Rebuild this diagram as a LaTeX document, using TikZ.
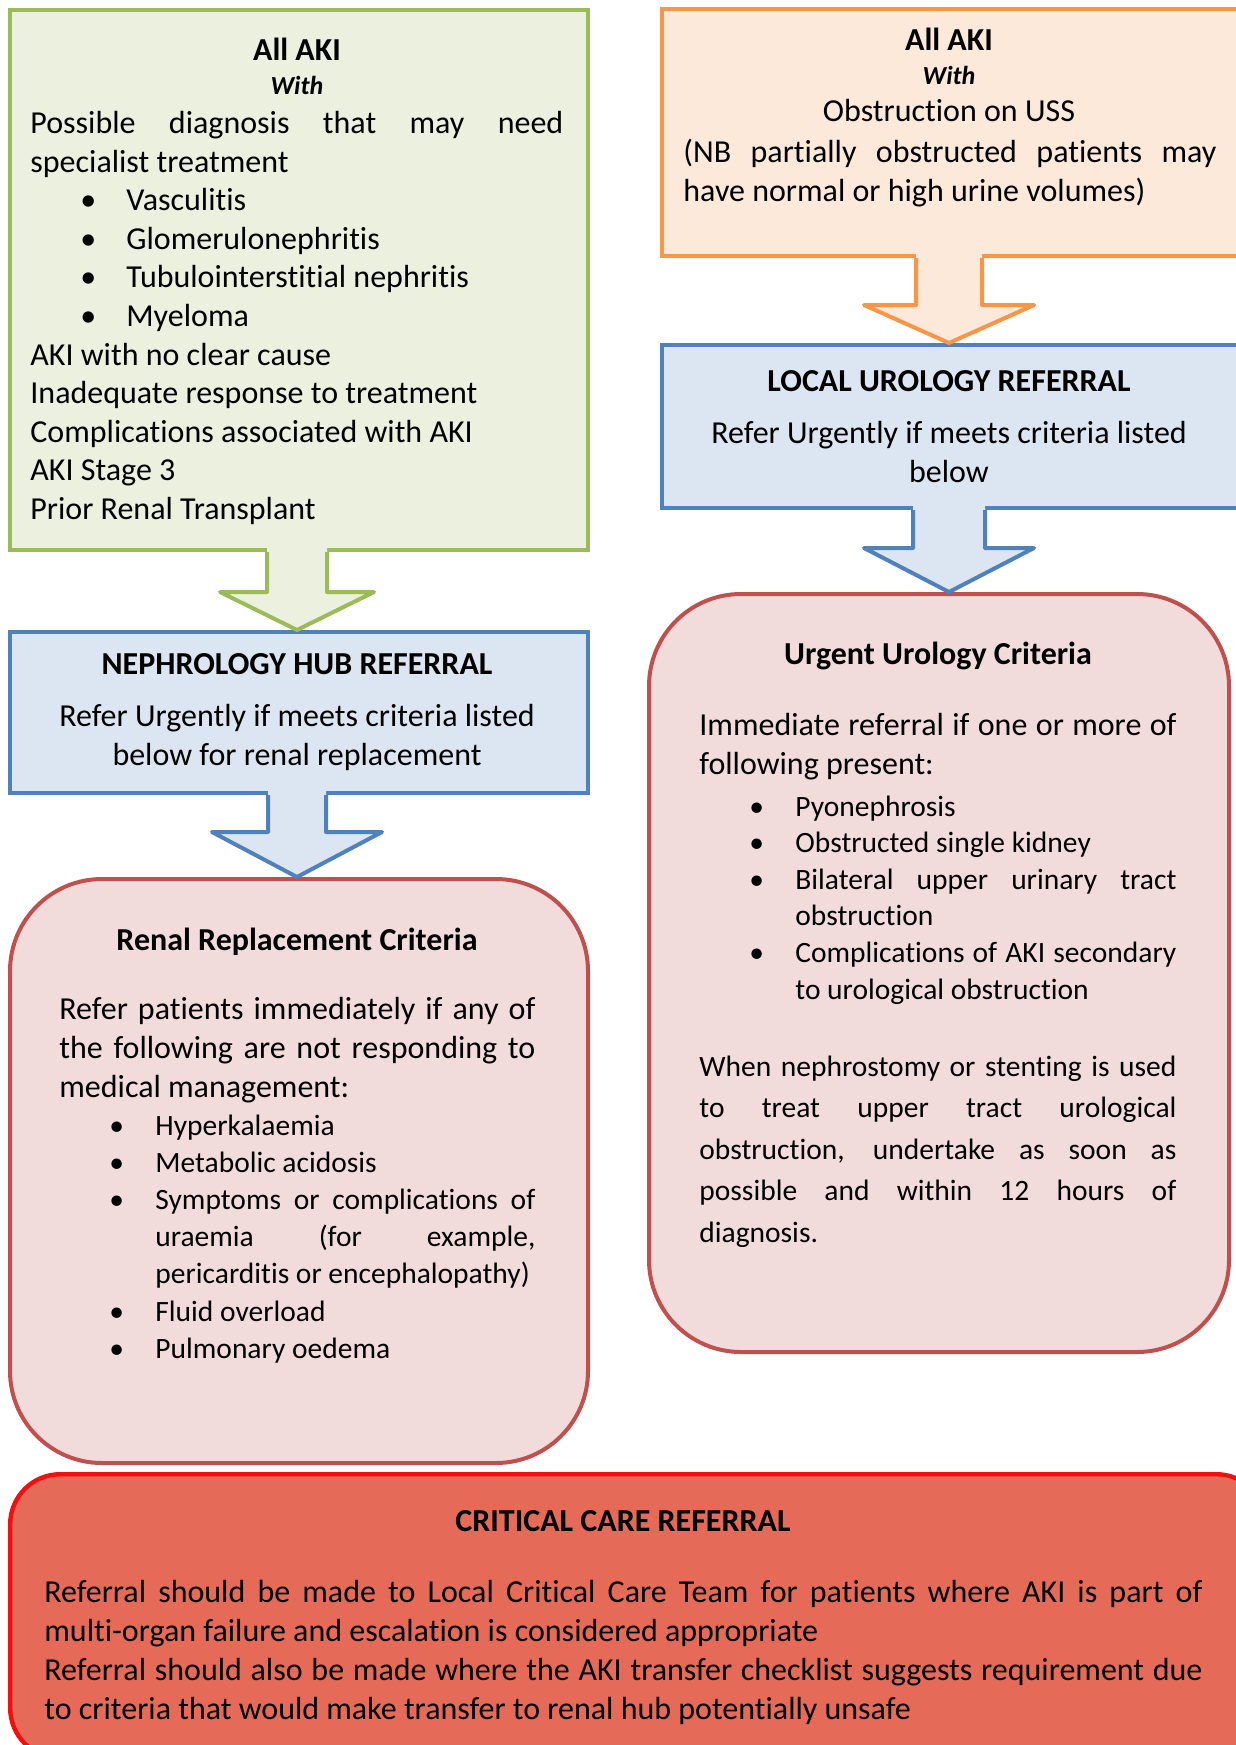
\documentclass[tikz,border=0pt]{standalone}
\usepackage{fontspec}
\setmainfont{Carlito}[Ligatures=NoCommon]
\usetikzlibrary{calc}

\definecolor{akigreen}{HTML}{9BBB59}
\definecolor{akigreenfill}{HTML}{EBF1DE}
\definecolor{akiorange}{HTML}{F79646}
\definecolor{akiorangefill}{HTML}{FDE9D9}
\definecolor{akiblue}{HTML}{4F81BD}
\definecolor{akibluefill}{HTML}{DCE6F2}
\definecolor{akired}{HTML}{C0504D}
\definecolor{akiredfill}{HTML}{F2DCDB}
\definecolor{critred}{HTML}{F20F0F}
\definecolor{critfill}{HTML}{E56B58}

\setlength{\parindent}{0pt}
\tolerance=9999
\hyphenpenalty=10000
\exhyphenpenalty=10000

% bullet line with hanging indent
\newcommand{\akiitem}[1]{\par\hangindent=48pt\hangafter=1\noindent\hspace*{25pt}\makebox[23pt][l]{•}#1}
\newcommand{\smallitems}[1]{\par\fontsize{14.75}{#1}\selectfont}

% block arrow: style, axis node, from, to, shaft half width, head half width, head length
\newcommand{\blockarrow}[7]{%
  \coordinate (#3-foot) at (#2 |- #3.south);
  \coordinate (#3-tip) at (#2 |- #4.north);
  \fill[#1, draw=none] ($(#3-foot)+(-#5,-6)$) -- ($(#3-tip)+(-#5,-#7)$) -- ($(#3-tip)+(-#6,-#7)$) -- (#3-tip)
    -- ($(#3-tip)+(#6,-#7)$) -- ($(#3-tip)+(#5,-#7)$) -- ($(#3-foot)+(#5,-6)$) -- cycle;
  \draw[#1, fill=none] ($(#3-foot)+(-#5,0)$) -- ($(#3-tip)+(-#5,-#7)$) -- ($(#3-tip)+(-#6,-#7)$) -- (#3-tip)
    -- ($(#3-tip)+(#6,-#7)$) -- ($(#3-tip)+(#5,-#7)$) -- ($(#3-foot)+(#5,0)$);
}

\begin{document}
\begin{tikzpicture}[
        x=0.5pt, y=-0.5pt,
        box/.style={draw, line width=2pt, anchor=north west, inner sep=0pt}, % Box styling
        greenbox/.style={box, draw=akigreen, fill=akigreenfill},
        orangebox/.style={box, draw=akiorange, fill=akiorangefill},
        bluebox/.style={box, draw=akiblue, fill=akibluefill},
        redbox/.style={box, draw=akired, fill=akiredfill, rounded corners=46pt},
        critbox/.style={box, draw=critred, fill=critfill, line width=2.2pt, rounded corners=25pt},
        greenarrow/.style={draw=akigreen, fill=akigreenfill, line width=2pt, line join=round},
        orangearrow/.style={draw=akiorange, fill=akiorangefill, line width=2pt, line join=round},
        bluearrow/.style={draw=akiblue, fill=akibluefill, line width=2pt, line join=round},
        titletext/.style={anchor=base, inner sep=0pt, font={\fontsize{16}{19}\selectfont\bfseries}},
        withtext/.style={anchor=base, inner sep=0pt, font={\fontsize{13}{16}\selectfont\bfseries\itshape}},
        bodytext/.style={anchor=base west, inner sep=0pt, align=justify, font={\fontsize{16}{19.3}\selectfont}},
        centertext/.style={anchor=base, inner sep=0pt, text width=285pt, align=flush center, font={\fontsize{16}{19.5}\selectfont}}
        ]
        \useasboundingbox (0,0) rectangle (1236,1745);
        \clip (0,0) rectangle (1236,1745);

        % Define boxes
        \node (akibox) [greenbox, minimum width=289pt, minimum height=270pt] at (8,8) {};
        \node (nephbox) [bluebox, minimum width=289pt, minimum height=80.5pt] at (8,630) {};
        \node (renalbox) [redbox, minimum width=289pt, minimum height=292pt] at (8,877) {};
        \node (obstbox) [orangebox, minimum width=300pt, minimum height=123.5pt] at (660,7) {};
        \node (urolbox) [bluebox, minimum width=300pt, minimum height=81.5pt] at (660,343) {};
        \node (urgentbox) [redbox, minimum width=290pt, minimum height=379pt] at (647,592) {};
        \node (critbox) [critbox, minimum width=628pt, minimum height=142pt] at (8,1472) {};

        % Left column texts
        \node (akititle) [titletext] at (297,60) {All AKI};
        \node (akiwith) [withtext] at (297,94) {With};
        \node (akibody) [bodytext, text width=266.5pt] at (30,133.5) {Possible diagnosis that may need\linebreak specialist treatment
            \akiitem{Vasculitis}
            \akiitem{Glomerulonephritis}
            \akiitem{Tubulointerstitial nephritis}
            \akiitem{Myeloma}
            \par AKI with no clear cause
            \par Inadequate response to treatment
            \par Complications associated with AKI
            \par AKI Stage 3
            \par Prior Renal Transplant\par};

        \node (nephtitle) [titletext] at (297,674) {NEPHROLOGY HUB REFERRAL};
        \node (nephbody) [centertext] at (297,726) {Refer Urgently if meets criteria listed\\below for renal replacement};

        \node (renaltitle) [titletext] at (297,950) {Renal Replacement Criteria};
        \node (renalbody) [bodytext, text width=238pt, font={\fontsize{16}{19.7}\selectfont}] at (59,1019) {Refer patients immediately if any of\linebreak the following are not responding to\linebreak medical management:
            \smallitems{18.6}
            \akiitem{Hyperkalaemia}
            \akiitem{Metabolic acidosis}
            \akiitem{Symptoms or complications of\linebreak uraemia (for example,\linebreak pericarditis or encephalopathy)}
            \akiitem{Fluid overload}
            \akiitem{Pulmonary oedema}\par};

        % Right column texts
        \node (obsttitle) [titletext] at (949,50) {All AKI};
        \node (obstwith) [withtext] at (949,84) {With};
        \node (obstline) [centertext] at (949,121) {Obstruction on USS};
        \node (obstbody) [bodytext, text width=266.5pt, font={\fontsize{16}{19.6}\selectfont}] at (683,162) {(NB partially obstructed patients may\linebreak have normal or high urine volumes)};

        \node (uroltitle) [titletext] at (949,391) {LOCAL UROLOGY REFERRAL};
        \node (urolbody) [centertext] at (949,443) {Refer Urgently if meets criteria listed\\below};

        \node (urgenttitle) [titletext] at (938,664) {Urgent Urology Criteria};
        \node (urgentbody) [bodytext, text width=238.5pt, font={\fontsize{16}{19.5}\selectfont}] at (699,735) {Immediate referral if one or more of\linebreak following present:
            \smallitems{18.3}\vspace{2.7pt}
            \akiitem{Pyonephrosis}
            \akiitem{Obstructed single kidney}
            \akiitem{Bilateral upper urinary tract\linebreak obstruction}
            \akiitem{Complications of AKI secondary\linebreak to urological obstruction}\par};
        \node (urgentnote) [bodytext, text width=238.5pt, font={\fontsize{14.75}{20.8}\selectfont}] at (699,1076) {When nephrostomy or stenting is used\linebreak to treat upper tract urological\linebreak obstruction, undertake as soon as\linebreak possible and within 12 hours of\linebreak diagnosis.\par};

        % Critical care texts
        \node (crittitle) [titletext] at (623,1531) {CRITICAL CARE REFERRAL};
        \node (critbody) [bodytext, text width=579pt, font={\fontsize{16}{19.5}\selectfont}] at (44,1602) {Referral should be made to Local Critical Care Team for patients where AKI is part of\linebreak multi-organ failure and escalation is considered appropriate
            \par Referral should also be made where the AKI transfer checklist suggests requirement due\linebreak to criteria that would make transfer to renal hub potentially unsafe\par};

        % Draw arrows
        \blockarrow{greenarrow}{akititle}{akibox}{nephbox}{30}{77}{38}
        \blockarrow{bluearrow}{nephtitle}{nephbox}{renalbox}{29}{85}{45}
        \blockarrow{orangearrow}{obsttitle}{obstbox}{urolbox}{33}{85}{38}
        \blockarrow{bluearrow}{uroltitle}{urolbox}{urgentbox}{36}{85}{44}

    \end{tikzpicture}
\end{document}
